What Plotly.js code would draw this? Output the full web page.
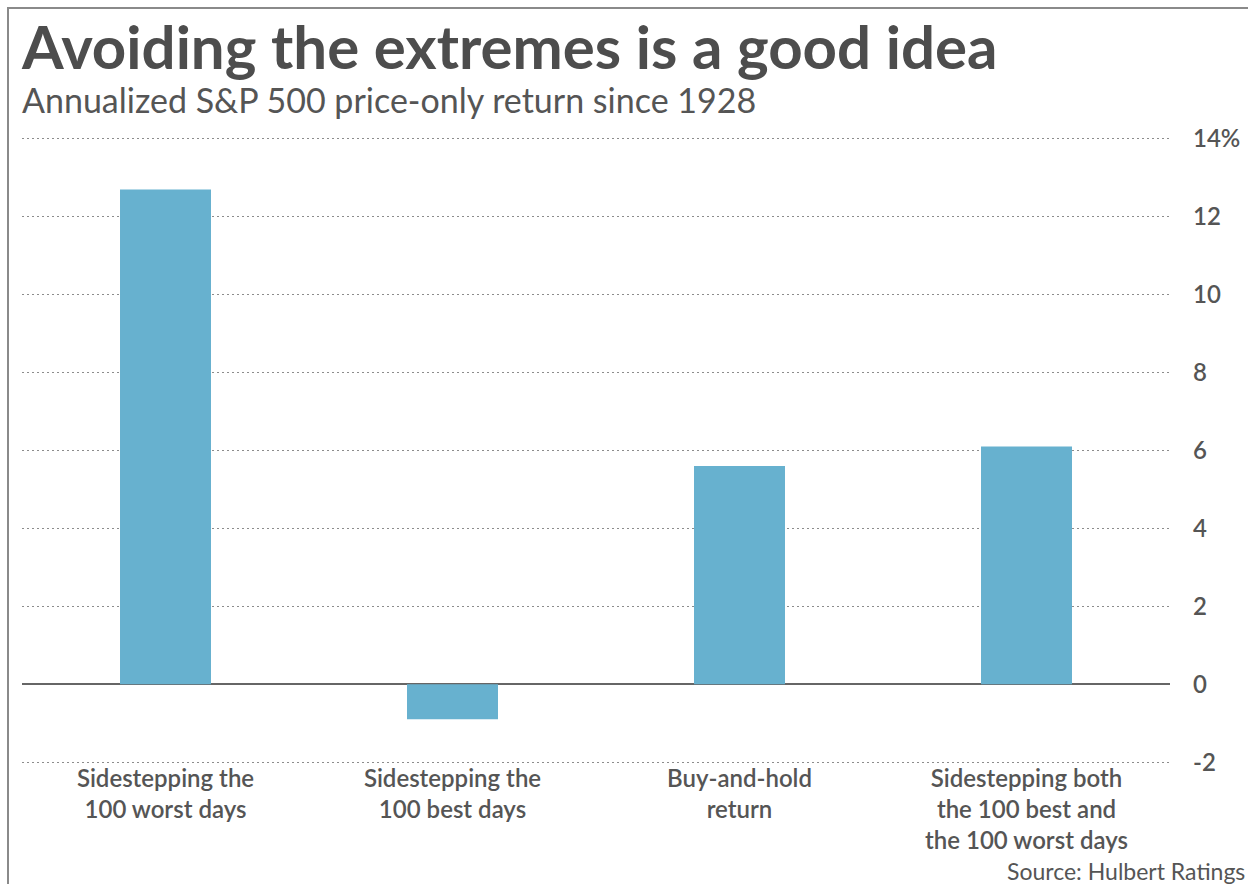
<!DOCTYPE html>
<html>
<head>
<meta charset="utf-8">
<script src="https://cdn.plot.ly/plotly-3.0.1.min.js"></script>
<style>
  html, body { margin: 0; padding: 0; background: #fff; }
  #chart { width: 1248px; height: 884px; }
  #frame {
    position: absolute; left: 7px; top: 7px; right: 0; bottom: 0;
    border-left: 2px solid #8a8a8a; border-top: 2px solid #8a8a8a;
    pointer-events: none;
  }
</style>
</head>
<body>
<div id="chart"></div>
<div id="frame"></div>
<script>
// Annualized S&P 500 price-only return since 1928, by strategy
const categories = [
  "Sidestepping the<br>100 worst days",
  "Sidestepping the<br>100 best days",
  "Buy-and-hold<br>return",
  "Sidestepping both<br>the 100 best and<br>the 100 worst days"
];
const returns = [12.7, -0.9, 5.6, 6.1];
const yTickVals = [-2, 0, 2, 4, 6, 8, 10, 12, 14];
const yTickText = ["-2", "0", "2", "4", "6", "8", "10", "12", "14%"];

const textColor = "#555555";
const font = "Lato, 'Open Sans', sans-serif";

const trace = {
  type: "bar",
  x: categories,
  y: returns,
  marker: { color: "#67b1cf" },
  hoverinfo: "skip"
};

const layout = {
  width: 1248,
  height: 884,
  margin: { l: 22, r: 78, t: 135, b: 118 },
  paper_bgcolor: "#ffffff",
  plot_bgcolor: "#ffffff",
  showlegend: false,
  bargap: 0.683,
  font: { family: font, color: textColor },
  title: {
    text: "<b>Avoiding the extremes is a good idea</b>",
    font: { family: font, size: 60, color: "#4d4d4d", weight: 900 },
    x: 0, xref: "paper", xanchor: "left",
    y: 1, yref: "container", yanchor: "top", pad: { t: 27 }
  },
  xaxis: {
    type: "category",
    range: [-0.5, 3.5],
    showgrid: false,
    zeroline: false,
    showline: false,
    ticks: "",
    tickfont: { family: font, size: 24, color: textColor, weight: 600 },
    ticklabelstandoff: -4,
    fixedrange: true
  },
  yaxis: {
    side: "right",
    range: [-2.1, 14.1],
    tickvals: yTickVals,
    ticktext: yTickText,
    showgrid: true,
    gridcolor: "#8c8c8c",
    griddash: "2px,3px",
    gridwidth: 1,
    zeroline: true,
    zerolinecolor: "#666666",
    zerolinewidth: 2,
    showline: false,
    ticks: "",
    ticklabelstandoff: 22,
    tickfont: { family: font, size: 24, color: textColor, weight: 600 },
    fixedrange: true
  },
  annotations: [
    {
      text: "Annualized S&P 500 price-only return since 1928",
      xref: "paper", yref: "paper",
      x: 0, y: 1, xanchor: "left", yanchor: "bottom",
      xshift: -2, yshift: 13,
      showarrow: false,
      font: { family: font, size: 34, color: textColor }
    },
    {
      text: "Source: Hulbert Ratings",
      xref: "paper", yref: "paper",
      x: 1, y: 0, xanchor: "right", yanchor: "top",
      xshift: 77, yshift: -89,
      showarrow: false,
      font: { family: font, size: 23, color: textColor }
    }
  ]
};

Plotly.newPlot("chart", [trace], layout, { displayModeBar: false, staticPlot: true });
</script>
</body>
</html>
